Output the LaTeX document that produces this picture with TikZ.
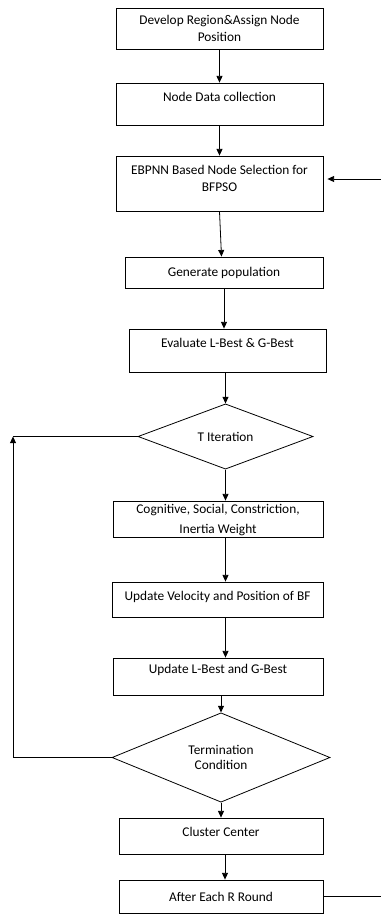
\documentclass[tikz,border=0pt]{standalone}
\usepackage{fontspec}
\setmainfont{Carlito}
\usetikzlibrary{shapes.geometric,arrows.meta}

\begin{document}
\begin{tikzpicture}[x=0.75pt,y=-0.75pt,>={Triangle[length=5pt,width=4.5pt]},
  font=\fontsize{10}{12.75}\selectfont,semithick]

%
% Styles
%
\tikzstyle{block} = [rectangle,draw,align=center,inner sep=2pt]
\tikzstyle{decision} = [diamond,draw,align=center,inner sep=0pt]
\tikzstyle{lifted} = [text height=7pt]

\useasboundingbox (0,0) rectangle (381,915);

\node[block,minimum width=155.3pt,minimum height=30.8pt] (dev) at (219.5,28.5) {Develop Region\&Assign Node\\Position};
\node[block,lifted,text depth=11.1pt,minimum width=155.3pt,minimum height=31.5pt] (data) at (219.5,104) {Node Data collection};
\node[block,text height=19.75pt,text depth=8.1pt,minimum width=155.3pt,minimum height=41.3pt] (ebpnn) at (219.5,183.5) {EBPNN Based Node Selection for\\BFPSO};
\node[block,minimum width=148.5pt,minimum height=23.3pt] (gen) at (224,272.5) {Generate population};
\node[block,lifted,text depth=11.8pt,minimum width=147.8pt,minimum height=32.3pt] (eval) at (227.5,350.5) {Evaluate L-Best \& G-Best};
\node[decision,minimum width=131.3pt,minimum height=33.8pt] (titer) at (225.5,436.5) {T Iteration};
\node[block,text height=22pt,text depth=-5.4pt,minimum width=157.5pt,minimum height=27pt] (cog) at (218,519) {Cognitive, Social, Constriction,\\[2.25pt]Inertia Weight};
\node[block,lifted,text depth=5.8pt,minimum width=158.3pt,minimum height=26.3pt] (upvel) at (217.5,599.5) {Update Velocity and Position of BF};
\node[block,lifted,text depth=11.8pt,minimum width=157.5pt,minimum height=27.8pt] (upbest) at (218,676.5) {Update L-Best and G-Best};
\node[decision,minimum width=163.5pt,minimum height=44.3pt] (term) at (221,757.5) {Termination\\[-1.5pt]Condition};
\node[block,lifted,text depth=6.6pt,minimum width=153pt,minimum height=27pt] (cluster) at (221,836) {Cluster Center};
\node[block,minimum width=153pt,minimum height=24.8pt] (round) at (221,896.5) {After Each R Round};

\coordinate (loopc) at (13,436.5);
\coordinate (backin) at (381,179);
\coordinate (backout) at (381,896.5);

\draw[->] (dev) -- (data);
\draw[->] (data) -- (ebpnn);
\draw[->] (ebpnn.south) -- ([xshift=1.5pt]gen.north -| ebpnn.south);
\draw[->] (gen.south) -- (gen.south |- eval.north);
\draw[->] (eval.south -| titer.north) -- (titer.north);
\draw[->] (titer.south) -- (titer.south |- cog.north);
\draw[->] (cog.south -| titer.south) -- (upvel.north -| titer.south);
\draw[->] (upvel.south -| titer.south) -- (upbest.north -| titer.south);
\draw[->] (upbest.south -| term.north) -- (term.north);
\draw[->] (term) -- (cluster);
\draw[->] ([xshift=3pt]cluster.south) -- ([xshift=3pt]round.north);
\draw[->] (term.west) -| (loopc);
\draw (loopc) -- (titer.west);
\draw[->,shorten >=3pt] (backin) -- (backin -| ebpnn.east);
\draw (round.east) -- (backout);

\end{tikzpicture}
\end{document}
